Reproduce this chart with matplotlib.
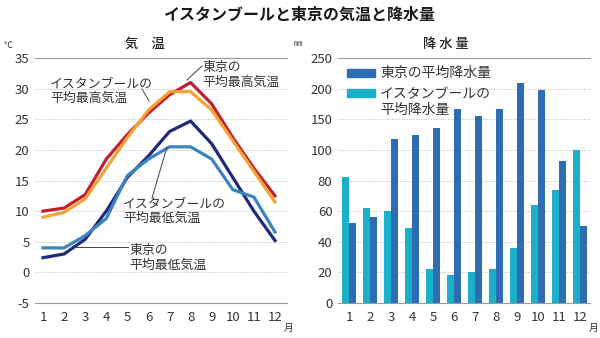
"""Istanbul vs Tokyo: temperature and precipitation."""
import numpy as np
import matplotlib
matplotlib.use("Agg")
import matplotlib.pyplot as plt
from matplotlib.patches import Rectangle

plt.rcParams["font.family"] = ["Noto Sans CJK JP", "DejaVu Sans"]
plt.rcParams["axes.unicode_minus"] = False

months = list(range(1, 13))
month_labels = [str(m) for m in months]

# temperature (deg C)
tokyo_max = [10.0, 10.5, 12.7, 18.5, 22.5, 26.0, 29.0, 31.0, 27.5, 22.0, 17.0, 12.5]
istanbul_max = [9.0, 9.8, 12.0, 17.0, 22.0, 26.5, 29.5, 29.5, 26.5, 21.5, 16.5, 11.5]
tokyo_min = [2.4, 3.0, 5.4, 10.0, 15.5, 19.0, 23.0, 24.7, 21.0, 15.5, 10.0, 5.2]
istanbul_min = [4.0, 4.0, 6.0, 8.8, 15.8, 18.5, 20.5, 20.5, 18.5, 13.5, 12.3, 6.6]

# precipitation (mm)
tokyo_rain = [52, 56, 117, 125, 135, 167, 156, 167, 210, 197, 93, 50]
istanbul_rain = [82, 62, 60, 49, 22, 18, 20, 22, 36, 64, 74, 100]

temp_ticks = [-5, 0, 5, 10, 15, 20, 25, 30, 35]
rain_ticks = [0, 20, 40, 60, 80, 100, 150, 200, 250]

TEXT = "#333333"
GRID = "#bdbdbd"


def fwd(y):
    y = np.asarray(y, dtype=float)
    return np.where(y <= 100, y / 20.0, 5 + (y - 100) / 50.0)


def inv(v):
    v = np.asarray(v, dtype=float)
    return np.where(v <= 5, v * 20.0, 100 + (v - 5) * 50.0)


def style(ax):
    for s in ["left", "right"]:
        ax.spines[s].set_visible(False)
    for s in ["top", "bottom"]:
        ax.spines[s].set_color("#9a9a9a")
        ax.spines[s].set_linewidth(0.8)
    ax.tick_params(length=0, labelsize=9.5, colors=TEXT, pad=4)
    ax.tick_params(axis="x", pad=6)
    ax.yaxis.grid(True, linestyle=(0, (1, 1.5)), color=GRID, linewidth=0.7)
    ax.set_axisbelow(True)


fig = plt.figure(figsize=(6, 3.38), dpi=100)
W, H = 600, 338

def px(x0, y0, x1, y1):
    return [x0 / W, 1 - y1 / H, (x1 - x0) / W, (y1 - y0) / H]

# ---- temperature
ax1 = fig.add_axes(px(35, 58, 287, 303))
ax1.plot(months, tokyo_max, color="#c41f2e", lw=2.3)
ax1.plot(months, istanbul_max, color="#f2a436", lw=2.3)
ax1.plot(months, tokyo_min, color="#1f2a78", lw=2.3)
ax1.plot(months, istanbul_min, color="#3b84bf", lw=2.3)
ax1.set_ylim(-5, 35)
ax1.set_xlim(0.62, 12.57)
ax1.set_yticks(temp_ticks)
ax1.set_xticks(months, month_labels)
style(ax1)

lab = dict(fontsize=9.3, color=TEXT, linespacing=1.15, va="center")
fig.text(50 / W, 1 - 91 / H, "イスタンブールの\n平均最高気温", **lab)
fig.text(202 / W, 1 - 75 / H, "東京の\n平均最高気温", **lab)
fig.text(123 / W, 1 - 211 / H, "イスタンブールの\n平均最低気温", **lab)
fig.text(129 / W, 1 - 258 / H, "東京の\n平均最低気温", **lab)
lk = dict(color="#444444", lw=0.7, transform=fig.transFigure)
fig.add_artist(plt.Line2D([142 / W, 149 / W], [1 - 89 / H, 1 - 101 / H], **lk))
fig.add_artist(plt.Line2D([187 / W, 202 / W], [1 - 80 / H, 1 - 66 / H], **lk))
fig.add_artist(plt.Line2D([167 / W, 152 / W], [1 - 147 / H, 1 - 198 / H], **lk))
fig.add_artist(plt.Line2D([76 / W, 128 / W], [1 - 247 / H, 1 - 247 / H], **lk))

# ---- precipitation
ax2 = fig.add_axes(px(338, 58, 590, 303))
ax2.set_yscale("function", functions=(fwd, inv))
x = np.array(months)
bw = 0.34
ax2.bar(x - bw / 2, istanbul_rain, width=bw, color="#1bb0c9")
ax2.bar(x + bw / 2, tokyo_rain, width=bw, color="#2e6db4")
ax2.set_ylim(0, 250)
ax2.set_xlim(0.476, 12.48)
ax2.set_yticks(rain_ticks)
ax2.set_xticks(months, month_labels)
style(ax2)

fig.add_artist(Rectangle((347 / W, 1 - 77 / H), 28 / W, 8 / H, color="#2e6db4",
                         transform=fig.transFigure))
fig.add_artist(Rectangle((347 / W, 1 - 97 / H), 28 / W, 8 / H, color="#1bb0c9",
                         transform=fig.transFigure))
fig.text(380 / W, 1 - 73 / H, "東京の平均降水量", fontsize=10, color=TEXT, va="center")
fig.text(380 / W, 1 - 102 / H, "イスタンブールの\n平均降水量", fontsize=10, color=TEXT,
         va="center", linespacing=1.1)

# ---- titles and units
fig.text(0.5, 1 - 15 / H, "イスタンブールと東京の気温と降水量", fontsize=11.5,
         fontweight="bold", ha="center", va="center", color="#1a1a1a")
fig.text(145 / W, 1 - 44 / H, "気　温", fontsize=9.5, fontweight="medium",
         ha="center", va="center", color="#222222")
fig.text(446 / W, 1 - 44 / H, "降 水 量", fontsize=9.5, fontweight="medium",
         ha="center", va="center", color="#222222")
fig.text(4 / W, 1 - 46 / H, "℃", fontsize=6.5, va="center", color=TEXT)
fig.text(294 / W, 1 - 44 / H, "㎜", fontsize=6, va="center", color=TEXT)
fig.text(284 / W, 1 - 328 / H, "月", fontsize=7, va="center", color=TEXT)
fig.text(589 / W, 1 - 328 / H, "月", fontsize=7, va="center", color=TEXT)

fig.savefig("out.png", dpi=100)
